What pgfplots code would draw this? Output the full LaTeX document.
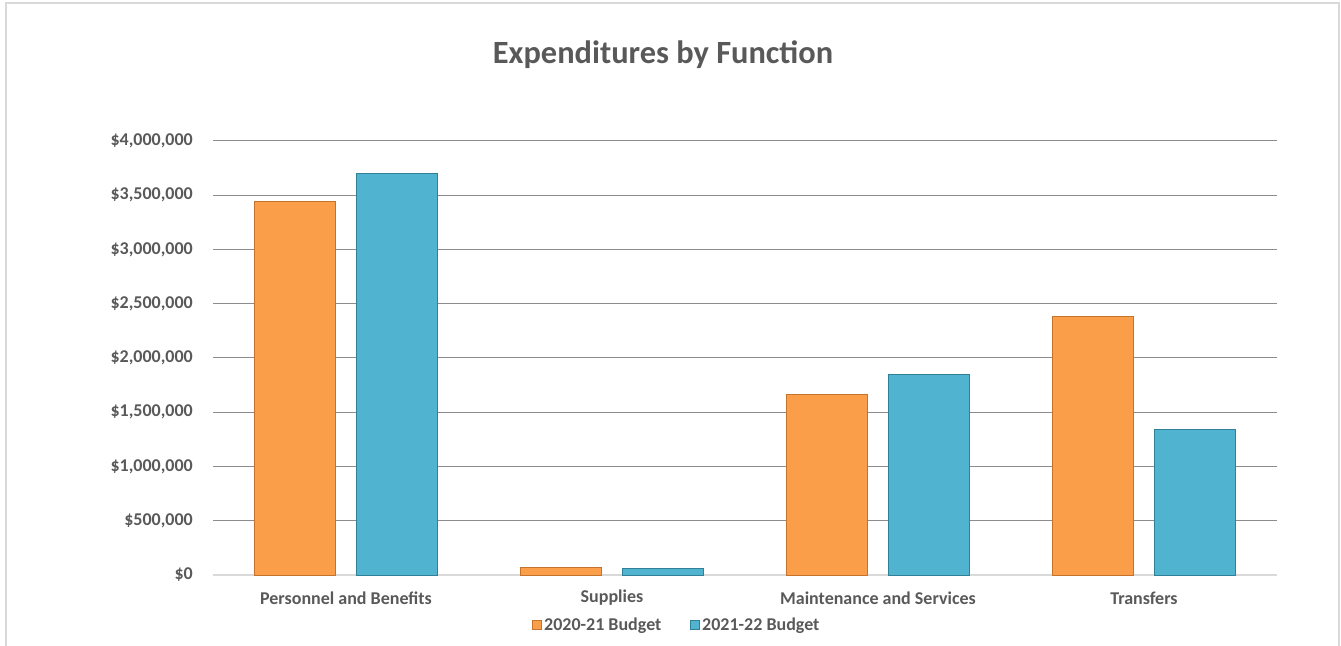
\documentclass[border=0pt]{standalone}
\usepackage{pgfplots}
\pgfplotsset{compat=1.18}
\usepackage{fontspec}
\setmainfont{Carlito}
\definecolor{txt}{RGB}{89,89,89}
\definecolor{orangebar}{RGB}{250,158,74}
\definecolor{orangeedge}{RGB}{196,115,45}
\definecolor{bluebar}{RGB}{80,180,208}
\definecolor{blueedge}{RGB}{48,128,152}
\definecolor{gridc}{RGB}{140,140,140}
\definecolor{framec}{RGB}{217,217,217}
\begin{document}
\begin{tikzpicture}
\path[use as bounding box] (-213bp,-71bp) rectangle (1128bp,575bp);
\draw[framec, line width=2bp] (-207bp,-72bp) -- (-207bp,572bp) -- (1126bp,572bp) -- (1126bp,-72bp);
\begin{axis}[
  scale only axis, width=1064bp, height=434bp,
  at={(0,0)}, anchor=south west,
  xmin=-0.5, xmax=3.5, ymin=0, ymax=4000000,
  axis line style={draw=none},
  ytick={0,500000,...,4000000},
  scaled y ticks=false,
  ymajorgrids, grid style={gridc, line width=1bp},
  major tick length=0,
  xtick={0,1,2,3},
  xticklabels={Personnel and Benefits, Supplies, Maintenance and Services, Transfers},
  yticklabel={\$\pgfmathprintnumber[fixed, precision=0, 1000 sep={,}]{\tick}},
  /pgf/number format/assume math mode=true,
  ticklabel style={font=\fontsize{18bp}{21bp}\selectfont\bfseries, text=txt, inner sep=0pt},
  yticklabel style={anchor=east, xshift=-20bp},
  xticklabel style={anchor=center, yshift=-23bp},
  title={Expenditures by Function},
  title style={at={(0.423,1.186)}, anchor=center, font=\fontsize{32.4bp}{38bp}\selectfont\bfseries, text=txt},
  ybar, bar width=81bp,
  legend columns=2,
  legend style={at={(0.436,-0.115)}, anchor=center, draw=none, fill=none,
    font=\fontsize{18bp}{21bp}\selectfont\bfseries, text=txt,
    /tikz/every even column/.append style={column sep=27bp},
    /tikz/every odd column/.append style={column sep=0bp}},
  legend image code/.code={\draw[#1, line width=0.8bp] (0bp,-4.5bp) rectangle (9bp,4.5bp);},
]
\draw[framec, line width=1.5bp] (axis cs:-0.5,0) -- (axis cs:3.5,0);
\addplot[fill=orangebar, draw=orangeedge, line width=0.8bp, bar shift=-51bp]
  coordinates {(0,3440000) (1,67000) (2,1660000) (3,2380000)};
\addplot[fill=bluebar, draw=blueedge, line width=0.8bp, bar shift=51bp]
  coordinates {(0,3700000) (1,62000) (2,1845000) (3,1340000)};
\legend{2020-21 Budget, 2021-22 Budget}
\end{axis}
\end{tikzpicture}
\end{document}
